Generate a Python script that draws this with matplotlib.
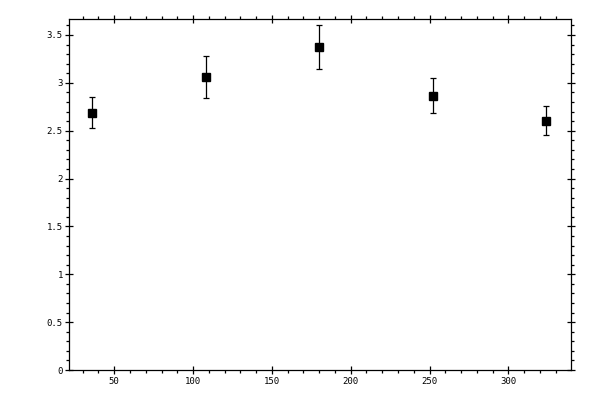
import matplotlib
matplotlib.use("Agg")
import matplotlib.pyplot as plt
from matplotlib.ticker import MultipleLocator, FuncFormatter

angles = [36, 108, 180, 252, 324]
values = [2.69, 3.06, 3.375, 2.867, 2.605]
errors = [0.162, 0.22, 0.23, 0.183, 0.152]

fig = plt.figure(figsize=(6, 4), dpi=100)
ax = fig.add_axes([0.1155, 0.075, 0.8355, 0.877])

ax.errorbar(angles, values, yerr=errors, fmt='s', color='black',
            markersize=5.2, capsize=2.0, elinewidth=0.9, capthick=0.9,
            ecolor='black')

ax.set_xlim(21.5, 339.5)
ax.set_ylim(0, 3.665)

ax.xaxis.set_major_locator(MultipleLocator(50))
ax.xaxis.set_minor_locator(MultipleLocator(10))
ax.yaxis.set_major_locator(MultipleLocator(0.5))
ax.yaxis.set_minor_locator(MultipleLocator(0.1))
ax.yaxis.set_major_formatter(FuncFormatter(lambda v, p: f"{v:g}"))
ax.xaxis.set_major_formatter(FuncFormatter(lambda v, p: f"{v:g}"))

for s in ax.spines.values():
    s.set_linewidth(0.9)

ax.tick_params(which='both', top=True, right=True, labeltop=False, labelright=False,
               width=0.9, colors='black', labelsize=6.5)
ax.tick_params(which='major', direction='inout', length=7.5/1.389, pad=2.0)
ax.tick_params(which='minor', direction='out', length=3.5/1.389)

for lab in ax.get_xticklabels() + ax.get_yticklabels():
    lab.set_family('DejaVu Sans Mono')

fig.savefig("out.png", dpi=100)
